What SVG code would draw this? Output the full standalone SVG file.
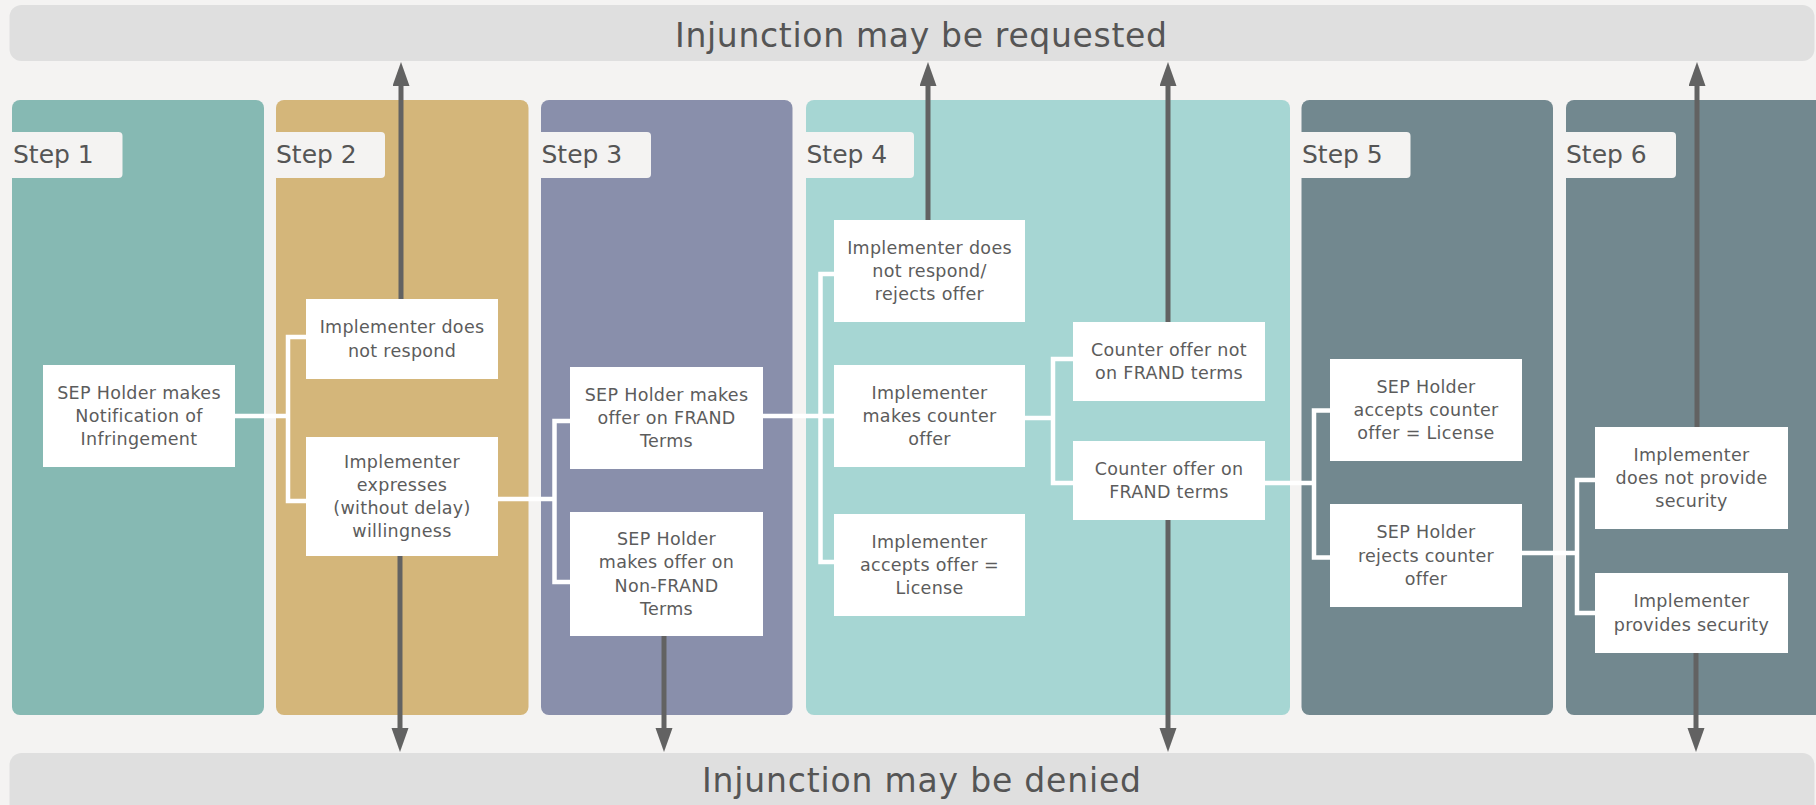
<svg xmlns="http://www.w3.org/2000/svg" width="1816" height="805" viewBox="0 0 1816 805">
<defs>
<style>
.bar{fill:#dfdfdf}
.ttl{font-family:"DejaVu Sans","Liberation Sans",sans-serif;font-size:33px;fill:#555;text-anchor:middle}
.panel{stroke:none}
.tab{fill:#f4f3f2}
.stp{font-family:"DejaVu Sans","Liberation Sans",sans-serif;font-size:25px;fill:#555}
.box{fill:#ffffff}
.nt{font-family:"DejaVu Sans","Liberation Sans",sans-serif;font-size:17.5px;letter-spacing:0.3px;fill:#5c5c5c;text-anchor:middle}
.conn{fill:none;stroke:#ffffff;stroke-width:4.5;stroke-linejoin:miter}
.arr{fill:none;stroke:#626262;stroke-width:5;marker-end:url(#ah)}
</style>
<marker id="ah" markerUnits="userSpaceOnUse" markerWidth="26" markerHeight="18" refX="2" refY="8.5" orient="auto">
<path d="M0,0 L24,8.5 L0,17 Z" fill="#626262"/>
</marker>
</defs>
<rect x="0" y="0" width="1816" height="805" fill="#f4f3f2"/>

<g id="bar-top">
<rect class="bar" x="9.5" y="5" width="1805" height="56" rx="12"/>
<text class="ttl" x="921" y="47" textLength="492" lengthAdjust="spacing">Injunction may be requested</text>
</g>
<g id="bar-bottom">
<rect class="bar" x="9.5" y="753" width="1805" height="70" rx="12"/>
<text class="ttl" x="921.5" y="792" textLength="439" lengthAdjust="spacing">Injunction may be denied</text>
</g>

<g id="step1">
<rect class="panel" x="12" y="100" width="252" height="615" rx="8" fill="#86b9b3"/>
<path class="tab" d="M11.5,132 H118.5 Q122.5,132 122.5,136 V174 Q122.5,178 118.5,178 H11.5 Z"/>
<text class="stp" x="13" y="163">Step 1</text>
</g>
<g id="step2">
<rect class="panel" x="276" y="100" width="252.5" height="615" rx="8" fill="#d4b67a"/>
<path class="tab" d="M275,132 H381 Q385,132 385,136 V174 Q385,178 381,178 H275 Z"/>
<text class="stp" x="276" y="163">Step 2</text>
</g>
<g id="step3">
<rect class="panel" x="541" y="100" width="251.5" height="615" rx="8" fill="#898fab"/>
<path class="tab" d="M540.5,132 H647 Q651,132 651,136 V174 Q651,178 647,178 H540.5 Z"/>
<text class="stp" x="541.5" y="163">Step 3</text>
</g>
<g id="step4">
<rect class="panel" x="806" y="100" width="484" height="615" rx="8" fill="#a6d6d3"/>
<path class="tab" d="M805.5,132 H910 Q914,132 914,136 V174 Q914,178 910,178 H805.5 Z"/>
<text class="stp" x="806.5" y="163">Step 4</text>
</g>
<g id="step5">
<rect class="panel" x="1301.5" y="100" width="251.5" height="615" rx="8" fill="#72888f"/>
<path class="tab" d="M1301,132 H1406.5 Q1410.5,132 1410.5,136 V174 Q1410.5,178 1406.5,178 H1301 Z"/>
<text class="stp" x="1302" y="163">Step 5</text>
</g>
<g id="step6">
<rect class="panel" x="1566" y="100" width="270" height="615" rx="8" fill="#72888f"/>
<path class="tab" d="M1565.5,132 H1672 Q1676,132 1676,136 V174 Q1676,178 1672,178 H1565.5 Z"/>
<text class="stp" x="1566" y="163">Step 6</text>
</g>

<g id="connectors">
<path class="conn" d="M235,416 H288"/>
<path class="conn" d="M306,337 H288 V501 H306"/>
<path class="conn" d="M498,499 H554.5"/>
<path class="conn" d="M570,421 H554.5 V582 H570"/>
<path class="conn" d="M763,416 H834"/>
<path class="conn" d="M834,274 H820.5 V562 H834"/>
<path class="conn" d="M1025,418 H1053"/>
<path class="conn" d="M1073,359 H1053 V483 H1073"/>
<path class="conn" d="M1265,483 H1314"/>
<path class="conn" d="M1330,410.5 H1314 V557.5 H1330"/>
<path class="conn" d="M1522,553 H1577"/>
<path class="conn" d="M1595,480 H1577 V613 H1595"/>
<path class="arr" d="M401,299 V84"/>
<path class="arr" d="M928,220 V84"/>
<path class="arr" d="M1168,322 V84"/>
<path class="arr" d="M1697,427 V84"/>
<path class="arr" d="M400,556 V730"/>
<path class="arr" d="M664,636 V730"/>
<path class="arr" d="M1168,520 V730"/>
<path class="arr" d="M1696,653 V730"/>
</g>

<g id="n1">
<rect class="box" x="43" y="365" width="192" height="102"/>
<text class="nt" x="139" y="398.7">SEP Holder makes</text>
<text class="nt" x="139" y="422">Notification of</text>
<text class="nt" x="139" y="445.3">Infringement</text>
</g>
<g id="n2a">
<rect class="box" x="306" y="299" width="192" height="80"/>
<text class="nt" x="402" y="333.4">Implementer does</text>
<text class="nt" x="402" y="356.7">not respond</text>
</g>
<g id="n2b">
<rect class="box" x="306" y="437" width="192" height="119"/>
<text class="nt" x="402" y="467.5">Implementer</text>
<text class="nt" x="402" y="490.8">expresses</text>
<text class="nt" x="402" y="514.1">(without delay)</text>
<text class="nt" x="402" y="537.4">willingness</text>
</g>
<g id="n3a">
<rect class="box" x="570" y="367" width="193" height="102"/>
<text class="nt" x="666.5" y="400.7">SEP Holder makes</text>
<text class="nt" x="666.5" y="424">offer on FRAND</text>
<text class="nt" x="666.5" y="447.3">Terms</text>
</g>
<g id="n3b">
<rect class="box" x="570" y="512" width="193" height="124"/>
<text class="nt" x="666.5" y="545">SEP Holder</text>
<text class="nt" x="666.5" y="568.3">makes offer on</text>
<text class="nt" x="666.5" y="591.6">Non-FRAND</text>
<text class="nt" x="666.5" y="614.9">Terms</text>
</g>
<g id="n4a">
<rect class="box" x="834" y="220" width="191" height="102"/>
<text class="nt" x="929.5" y="253.7">Implementer does</text>
<text class="nt" x="929.5" y="277">not respond/</text>
<text class="nt" x="929.5" y="300.3">rejects offer</text>
</g>
<g id="n4b">
<rect class="box" x="834" y="365" width="191" height="102"/>
<text class="nt" x="929.5" y="398.7">Implementer</text>
<text class="nt" x="929.5" y="422">makes counter</text>
<text class="nt" x="929.5" y="445.3">offer</text>
</g>
<g id="n4c">
<rect class="box" x="834" y="514" width="191" height="102"/>
<text class="nt" x="929.5" y="547.7">Implementer</text>
<text class="nt" x="929.5" y="571">accepts offer =</text>
<text class="nt" x="929.5" y="594.3">License</text>
</g>
<g id="n4d">
<rect class="box" x="1073" y="322" width="192" height="79"/>
<text class="nt" x="1169" y="355.8">Counter offer not</text>
<text class="nt" x="1169" y="379.1">on FRAND terms</text>
</g>
<g id="n4e">
<rect class="box" x="1073" y="441" width="192" height="79"/>
<text class="nt" x="1169" y="474.8">Counter offer on</text>
<text class="nt" x="1169" y="498.1">FRAND terms</text>
</g>
<g id="n5a">
<rect class="box" x="1330" y="359" width="192" height="102"/>
<text class="nt" x="1426" y="392.7">SEP Holder</text>
<text class="nt" x="1426" y="416">accepts counter</text>
<text class="nt" x="1426" y="439.3">offer = License</text>
</g>
<g id="n5b">
<rect class="box" x="1330" y="504" width="192" height="103"/>
<text class="nt" x="1426" y="538.2">SEP Holder</text>
<text class="nt" x="1426" y="561.5">rejects counter</text>
<text class="nt" x="1426" y="584.8">offer</text>
</g>
<g id="n6a">
<rect class="box" x="1595" y="427" width="193" height="102"/>
<text class="nt" x="1691.5" y="460.7">Implementer</text>
<text class="nt" x="1691.5" y="484">does not provide</text>
<text class="nt" x="1691.5" y="507.3">security</text>
</g>
<g id="n6b">
<rect class="box" x="1595" y="573" width="193" height="80"/>
<text class="nt" x="1691.5" y="607.4">Implementer</text>
<text class="nt" x="1691.5" y="630.7">provides security</text>
</g>
</svg>
